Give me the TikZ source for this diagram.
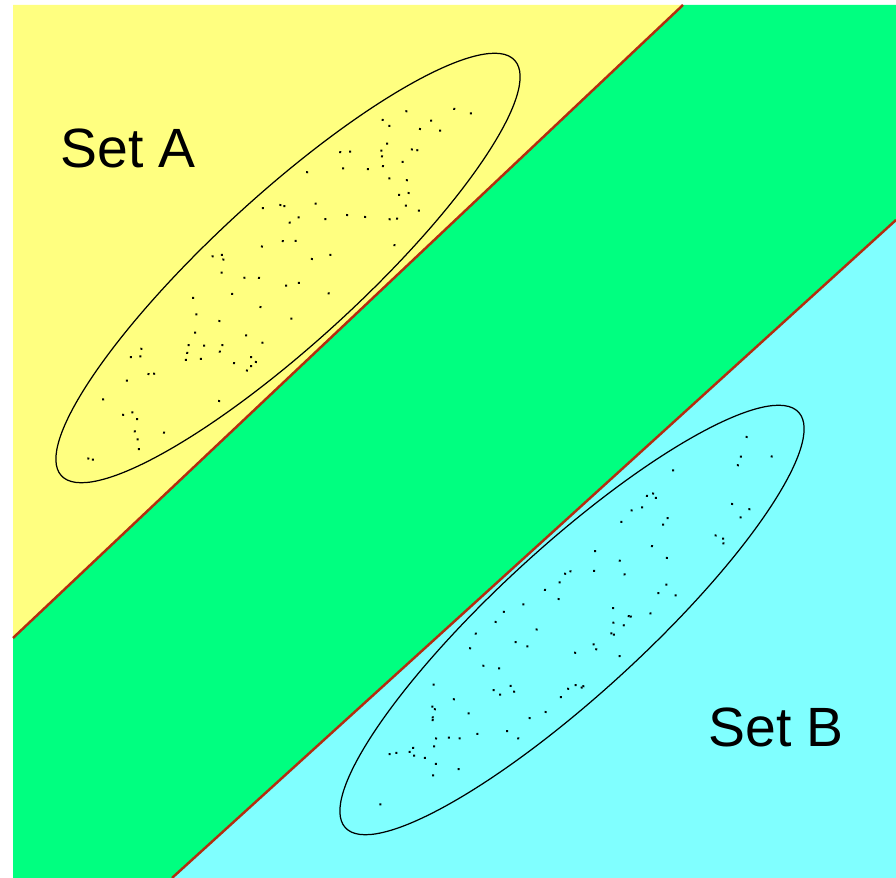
\documentclass[tikz,border=0pt]{standalone}
\usepackage{fontspec}
\setmainfont{Liberation Sans}
\usetikzlibrary{shapes.geometric}
\definecolor{sarga}{RGB}{255,255,128}
\definecolor{zold}{RGB}{0,255,128}
\definecolor{kek}{RGB}{128,255,255}
\definecolor{piros}{RGB}{180,45,15}
\tikzset{
  hatar/.style={draw=piros,line width=1.4pt},
  halmaz/.style={ellipse,draw=black,line width=0.7pt,inner sep=0pt,
    minimum width=12.3cm,minimum height=2.95cm,rotate=42.5},
  potty/.style={fill=black},
  felirat/.style={anchor=base west,inner sep=0pt,font=\fontsize{31.5}{38}\selectfont},
}

\begin{document}
\begin{tikzpicture}[x=0.02cm,y=0.02cm]
  \useasboundingbox (0,0) rectangle (896,878);
  \fill[white] (0,0) rectangle (896,878);
  % savok
  \coordinate (a1) at (13,240); \coordinate (a2) at (683,873);
  \coordinate (b1) at (172,0); \coordinate (b2) at (896,658);
  \fill[sarga] (a1) -- (a2) -- (13,873) -- cycle;
  \fill[zold] (a1) -- (a2) -- (896,873) -- (b2) -- (b1) -- (13,0) -- cycle;
  \fill[kek] (b1) -- (b2) -- (896,0) -- cycle;
  \draw[hatar] (a1) -- (a2);
  \draw[hatar] (b1) -- (b2);
  % halmazok
  \node[halmaz] (A) at (288,610) {};
  \node[halmaz] (B) at (572,258) {};
  \pgfmathsetseed{2024}
  \foreach \c in {A,B} {
    \begin{scope}[shift={(\c.center)},rotate=42.5]
      \foreach \i in {1,...,90} {
        \pgfmathsetmacro\sug{0.93*sqrt(rnd)}
        \pgfmathsetmacro\szog{360*rnd}
        \fill[potty] ({\sug*300*cos(\szog)},{\sug*66*sin(\szog)}) circle (0.8pt);
      }
    \end{scope}
  }
  \node[felirat] (cA) at (60,710) {Set A};
  \node[felirat] (cB) at (708,131) {Set B};
\end{tikzpicture}
\end{document}
